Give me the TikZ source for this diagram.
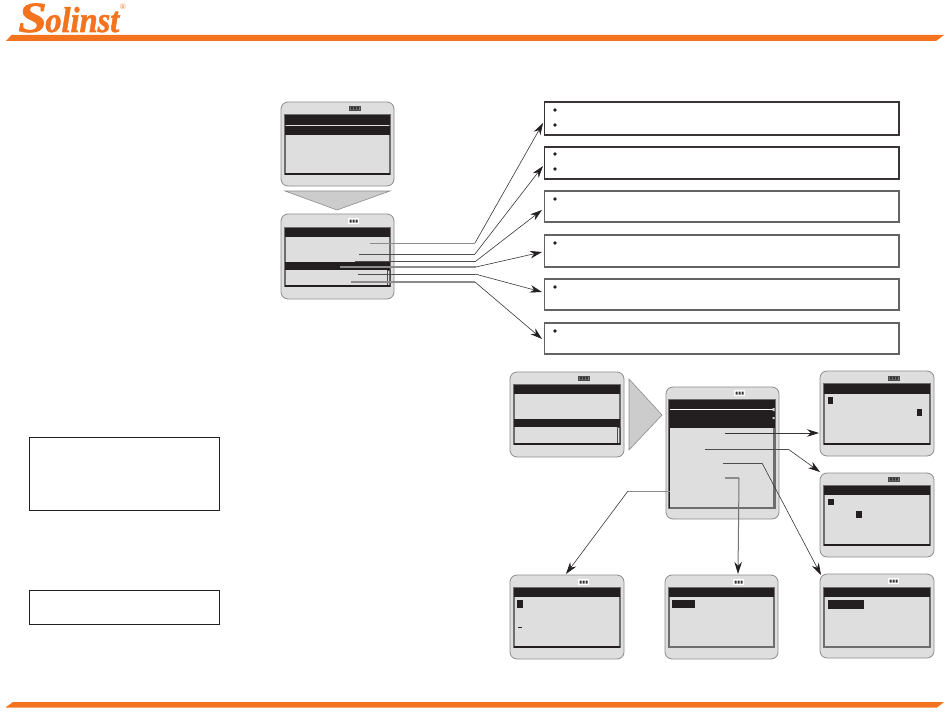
\documentclass[tikz,border=0pt]{standalone}
\usepackage{fontspec}
\setmainfont{Liberation Serif}
\newfontface\logoS{Liberation Serif Bold Italic}[FakeBold=1.6,FakeStretch=1.2]
\newfontface\logoT{Liberation Serif Bold Italic}[FakeBold=1.4,FakeStretch=0.9]
\usetikzlibrary{arrows.meta,shapes.geometric}
\definecolor{solorange}{HTML}{F4731F}
\definecolor{devfill}{HTML}{DEDEDE}
\definecolor{inkblack}{HTML}{231F20}
\definecolor{devedge}{HTML}{8C8C8C}
\definecolor{scredge}{HTML}{6E6E6E}
\tikzset{
  px/.style={anchor=north west,inner sep=0pt,outer sep=0pt},
  devbody/.style={px,fill=devfill,draw=devedge,line width=0.8pt,rounded corners=7pt},
  screen/.style={px,fill=devfill,draw=scredge,line width=1.1pt},
  band/.style={px,fill=inkblack},
  infobox/.style={px,draw=inkblack!90,line width=1.4pt},
  infoboxlight/.style={px,draw=inkblack!70,line width=1.2pt},
  notebox/.style={px,draw=inkblack,line width=1pt},
  wedge/.style={fill=devfill!92!black,draw=devedge,line width=0.6pt},
  lead/.style={draw=inkblack!80,line width=0.7pt},
  leadgray/.style={draw=black!45,line width=1.2pt},
  tail/.style={draw=inkblack!90,line width=0.6pt},
  arrow/.style={tail,-{Stealth[length=12pt,width=7.5pt,color=inkblack]}},
  screenfoot/.style={draw=inkblack,line width=1.1pt},
  bullet/.style={diamond,fill=inkblack,inner sep=0pt,minimum size=4pt},
  batterycase/.style={px,fill=black!45,draw=black!70,line width=0.6pt},
  batterywhite/.style={px,fill=white},
}
% name, x1, y1, x2, y2, style
\newcommand\rectnode[6]{%
  \pgfmathsetmacro\rw{#4-#2}\pgfmathsetmacro\rh{#5-#3}%
  \node[#6,minimum width=\rw pt,minimum height=\rh pt] (#1) at (#2,#3) {};}
% name, x, y : dark battery
\newcommand\battery[3]{%
  \rectnode{#1}{#2}{#3}{#2+11}{#3+4.5}{batterycase}%
  \fill[black!80] (#2+1.5,#3+1) rectangle (#2+3.8,#3+3.5) (#2+4.6,#3+1) rectangle (#2+6.9,#3+3.5) (#2+7.7,#3+1) rectangle (#2+10,#3+3.5);}
% name, x, y : battery on white patch
\newcommand\batteryw[3]{%
  \rectnode{#1}{#2}{#3}{#2+11}{#3+6}{batterywhite}%
  \fill[black!80] (#2+1.5,#3+1.5) rectangle (#2+3.5,#3+4.5) (#2+4.5,#3+1.5) rectangle (#2+6.5,#3+4.5) (#2+7.5,#3+1.5) rectangle (#2+9.5,#3+4.5);}
\begin{document}
\begin{tikzpicture}[x=1pt,y=-1pt]
\useasboundingbox (0,0) rectangle (950,725);
% header and footer bars
\fill[solorange] (6,41) -- (11.5,35) -- (944,35) -- (936,41) -- cycle;
\fill[solorange] (5.5,707.5) -- (13,702) -- (944,702) -- (937,707.5) -- cycle;
\node[anchor=base west,inner sep=0pt,text=solorange] (logo) at (18,32)
  {\fontsize{43}{43}\logoS S\kern-1.5pt\fontsize{36}{36}\logoT olinst};
\node[inner sep=0pt,text=solorange,font=\fontsize{8}{8}\selectfont] (reg) at (123,6.5) {®};
% left note boxes
\rectnode{noteA}{29}{437}{219}{510}{notebox}
\rectnode{noteB}{29}{590}{219}{624}{notebox}
% device 1
\rectnode{devA}{281}{102}{394}{186}{devbody}
\rectnode{scrA}{285}{115}{390}{174}{screen}
\rectnode{bandAa}{285}{115}{390}{124.5}{band}
\rectnode{bandAb}{285}{126}{390}{134.5}{band}
\draw[screenfoot] (scrA.south west) -- (scrA.south east);
\battery{batA}{349}{106}
% down wedge
\draw[wedge] (285,191) -- (390,191) -- (337,210) -- cycle;
% device 2
\rectnode{devB}{281}{214}{394}{299}{devbody}
\rectnode{scrB}{285}{228}{390}{286}{screen}
\rectnode{bandBa}{285}{228}{390}{237}{band}
\rectnode{bandBb}{285}{262}{390}{270}{band}
\rectnode{barB}{387}{270}{390}{286}{px,draw=inkblack!80,line width=0.7pt}
\draw[screenfoot] (scrB.south west) -- (scrB.south east);
\batteryw{batB}{348}{218}
% info boxes
\rectnode{infoA}{544.5}{102}{899}{135}{infobox}
\rectnode{infoB}{544.5}{147}{899}{179}{infobox}
\rectnode{infoC}{544.5}{191}{899}{222}{infoboxlight}
\rectnode{infoD}{544.5}{235}{899}{267}{infoboxlight}
\rectnode{infoE}{544.5}{279}{899}{310}{infoboxlight}
\rectnode{infoF}{544.5}{323}{899}{354}{infoboxlight}
\foreach \nm/\yy in {a/110,b/125,c/154,d/169,e/199,f/243,g/287,h/331}
  \node[bullet] (bul\nm) at (555,\yy) {};
% leaders, device 2 to info boxes
\coordinate (srcA) at (370,243); \coordinate (kneeA) at (475,243); \coordinate (tipA) at (543,123);
\coordinate (srcB) at (359,254); \coordinate (kneeB) at (475,254); \coordinate (tipB) at (543,166);
\coordinate (srcC) at (355,261); \coordinate (kneeC) at (476,261); \coordinate (tipC) at (542,210);
\coordinate (srcD) at (340,267); \coordinate (kneeD) at (476,267); \coordinate (tipD) at (542,252);
\coordinate (srcE) at (358,274); \coordinate (kneeE) at (475,274); \coordinate (tipE) at (542,292);
\coordinate (srcF) at (351,282); \coordinate (kneeF) at (475,282); \coordinate (tipF) at (542,339);
\draw[leadgray,line width=.7pt] (srcA) -- (kneeA);
\draw[lead] (srcB) -- (kneeB);
\draw[lead] (srcC) -- (kneeC);
\draw[leadgray] (srcD) -- (kneeD);
\draw[lead] (srcE) -- (kneeE);
\draw[leadgray] (srcF) -- (kneeF);
\foreach \k in {A,B,C,D,E,F} \draw[arrow] (knee\k) -- (tip\k);
% device 3
\rectnode{devC}{510}{372}{624}{457}{devbody}
\rectnode{scrC}{514}{385}{620}{444}{screen}
\rectnode{bandCa}{514}{385}{620}{394}{band}
\rectnode{bandCb}{514}{419}{620}{427}{band}
\rectnode{barC}{617}{427}{620}{444}{px,draw=inkblack!80,line width=0.7pt}
\draw[screenfoot] (scrC.south west) -- (scrC.south east);
\battery{batC}{578}{376}
% right wedge
\draw[wedge] (629,379) -- (629,450) -- (662,415) -- cycle;
% device 4
\rectnode{devD}{666}{387}{779}{519}{devbody}
\rectnode{scrD}{669}{400}{775}{508}{screen}
\rectnode{bandDa}{669}{400}{775}{428}{band}
\draw[white,line width=0.6pt] (670,409) -- (773,409);
\rectnode{barD}{773}{428}{775}{507}{px,draw=scredge,line width=0.7pt}
\fill[white!80!black] (772.5,408) rectangle (774.5,411) (772.5,417) rectangle (774.5,419);
\draw[draw=inkblack,line width=0.9pt] (scrD.north west) -- (scrD.south west);
\batteryw{batD}{734}{390}
% device 5
\rectnode{devE}{820}{371}{934}{456}{devbody}
\rectnode{scrE}{824}{384}{930}{444}{screen}
\rectnode{bandEa}{824}{384}{930}{394}{band}
\rectnode{curEa}{828}{397}{833}{404}{band}
\rectnode{curEb}{917}{409}{922}{416}{band}
\draw[screenfoot] (scrE.south west) -- (scrE.south east);
\battery{batE}{888}{376}
% device 6
\rectnode{devF}{820}{473}{934}{557}{devbody}
\rectnode{scrF}{824}{486}{930}{545}{screen}
\rectnode{bandFa}{824}{486}{930}{495}{band}
\rectnode{curFa}{828}{499}{834}{505}{band}
\rectnode{curFb}{856}{511}{862}{518}{band}
\draw[screenfoot] (scrF.south west) -- (scrF.south east);
\battery{batF}{888}{477}
% device 7
\rectnode{devG}{510}{575}{624}{659}{devbody}
\rectnode{scrG}{514}{588}{620}{647}{screen}
\rectnode{bandGa}{514}{588}{620}{597}{band}
\rectnode{curGa}{517}{600}{523}{608}{band}
\rectnode{dashG}{518}{626.5}{522}{627.5}{band}
\draw[screenfoot] (scrG.south west) -- (scrG.south east);
\batteryw{batG}{578}{579}
% device 8
\rectnode{devH}{665}{575}{778}{659}{devbody}
\rectnode{scrH}{669}{588}{774}{647}{screen}
\rectnode{bandHa}{669}{588}{774}{597}{band}
\rectnode{curHa}{672}{600}{695}{608}{band}
\batteryw{batH}{733}{579}
% device 9
\rectnode{devI}{820}{574}{934}{658}{devbody}
\rectnode{scrI}{824}{588}{930}{647}{screen}
\rectnode{bandIa}{824}{588}{930}{597}{band}
\rectnode{curIa}{828}{600}{864}{609}{band}
\batteryw{batI}{888}{578}
% leaders from device 4
\coordinate (srcP) at (725,433); \coordinate (tipP) at (819,433);
\coordinate (srcQ) at (705,449); \coordinate (kneeQ) at (788,449); \coordinate (tipQ) at (820,472);
\coordinate (srcR) at (723,463); \coordinate (kneeR) at (762,463); \coordinate (tipR) at (821,575);
\coordinate (srcS) at (725,478); \coordinate (kneeS) at (739,478); \coordinate (tipS) at (738,574);
\coordinate (srcT) at (670,491); \coordinate (kneeT) at (628,491); \coordinate (tipT) at (566,574);
\draw[arrow,line width=0.9pt] (srcP) -- (tipP);
\draw[lead] (srcQ) -- (kneeQ); \draw[arrow] (kneeQ) -- (tipQ);
\draw[lead] (srcR) -- (kneeR); \draw[arrow] (kneeR) -- (tipR);
\draw[leadgray] (srcS) -- (kneeS); \draw[arrow,draw=black!55,line width=1pt] (kneeS) -- (tipS);
\draw[leadgray,line width=.8pt] (srcT) -- (kneeT); \draw[arrow] (kneeT) -- (tipT);
\end{tikzpicture}
\end{document}
